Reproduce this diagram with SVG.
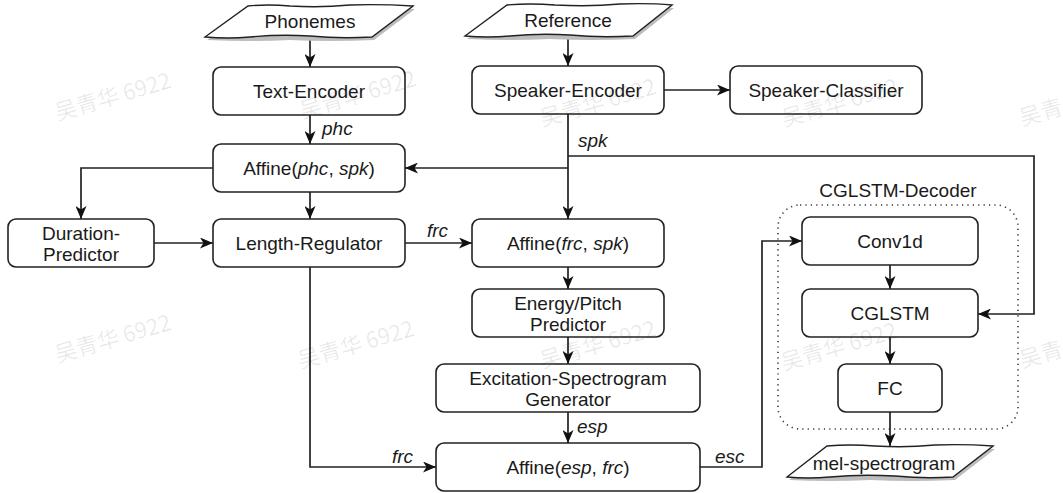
<svg xmlns="http://www.w3.org/2000/svg" width="1063" height="493" viewBox="0 0 1063 493">
<style>
.box{fill:#fff;stroke:#222;stroke-width:1.6}
.io{fill:#fff;stroke:#222;stroke-width:1.4}
.sh{fill:#bdbdbd;stroke:none}
.t{font-family:"Liberation Sans",Arial,sans-serif;font-size:19px;fill:#1a1a1a;text-anchor:middle}
.i{font-style:italic}
.lbl{font-family:"Liberation Sans",Arial,sans-serif;font-size:19px;fill:#1a1a1a;font-style:italic}
.c{fill:none;stroke:#222;stroke-width:1.7}
.wm{font-family:"Noto Sans CJK SC","Liberation Sans",sans-serif;font-size:22px;fill:#000;fill-opacity:0.09;text-anchor:middle}
</style>
<defs>
<marker id="ah" viewBox="0 0 13 11" refX="13" refY="5.5" markerWidth="13" markerHeight="11" markerUnits="userSpaceOnUse" orient="auto">
<path d="M0,0 L13,5.5 L0,11 L3.5,5.5 Z" fill="#111"/>
</marker>
</defs>

<g id="decoder-group">
<rect x="778" y="205" width="240" height="224" rx="22" fill="none" stroke="#333" stroke-width="1.6" stroke-dasharray="1.2 4.2"/>
<text class="t" x="898" y="197">CGLSTM-Decoder</text>
</g>

<g id="connectors">
<path class="c" d="M310,37 V67" marker-end="url(#ah)"/>
<path class="c" d="M568,36 V66" marker-end="url(#ah)"/>
<path class="c" d="M664,90 H730" marker-end="url(#ah)"/>
<path class="c" d="M310,115 V144" marker-end="url(#ah)"/>
<path class="c" d="M568,114 V219" marker-end="url(#ah)"/>
<path class="c" d="M568,168 H405" marker-end="url(#ah)"/>
<path class="c" d="M568,156 H1034 V314 H978" marker-end="url(#ah)"/>
<path class="c" d="M213,168 H81 V219" marker-end="url(#ah)"/>
<path class="c" d="M310,192 V219" marker-end="url(#ah)"/>
<path class="c" d="M154,243 H213" marker-end="url(#ah)"/>
<path class="c" d="M405,243 H472" marker-end="url(#ah)"/>
<path class="c" d="M568,267 V289" marker-end="url(#ah)"/>
<path class="c" d="M568,337 V364" marker-end="url(#ah)"/>
<path class="c" d="M568,412 V443" marker-end="url(#ah)"/>
<path class="c" d="M310,267 V467 H436" marker-end="url(#ah)"/>
<path class="c" d="M700,467 H762 V241 H802" marker-end="url(#ah)"/>
<path class="c" d="M890,265 V289" marker-end="url(#ah)"/>
<path class="c" d="M890,337 V364" marker-end="url(#ah)"/>
<path class="c" d="M890,412 V446" marker-end="url(#ah)"/>
<text class="lbl" x="322" y="135">phc</text>
<text class="lbl" x="578" y="147">spk</text>
<text class="lbl" x="427" y="237">frc</text>
<text class="lbl" x="577" y="433">esp</text>
<text class="lbl" x="392" y="463">frc</text>
<text class="lbl" x="715" y="463">esc</text>
</g>

<g id="phonemes">
<path class="sh" d="M207,40 L250,9 Q290,7 330,9 Q370,7 415,9 L374,40 Q330,42 290,40 Q250,42 207,40 Z"/>
<path class="io" d="M205,37 L248,6 Q268,4 290,6 Q320,8 350,5 Q380,4 413,6 L372,37 Q340,39 310,36 Q280,34 250,37 Q228,39 205,37 Z"/>
<text class="t" x="310" y="28">Phonemes</text>
</g>

<g id="reference">
<path class="sh" d="M467,39 L509,8 Q560,6 600,8 Q640,6 674,8 L635,39 Q590,41 550,39 Q510,41 467,39 Z"/>
<path class="io" d="M465,36 L507,5 Q530,3 555,5 Q590,7 620,4 Q650,3 672,5 L633,36 Q600,38 570,35 Q540,33 510,36 Q488,38 465,36 Z"/>
<text class="t" x="568" y="27">Reference</text>
</g>

<g id="text-encoder">
<rect class="box" x="213" y="67" width="192" height="48" rx="8"/>
<text class="t" x="309" y="98">Text-Encoder</text>
</g>

<g id="speaker-encoder">
<rect class="box" x="472" y="66" width="192" height="48" rx="8"/>
<text class="t" x="568" y="97">Speaker-Encoder</text>
</g>

<g id="speaker-classifier">
<rect class="box" x="730" y="66" width="192" height="48" rx="8"/>
<text class="t" x="826" y="97">Speaker-Classifier</text>
</g>

<g id="affine-phc-spk">
<rect class="box" x="213" y="144" width="192" height="48" rx="8"/>
<text class="t" x="309" y="175">Affine(<tspan class="i">phc</tspan>, <tspan class="i">spk</tspan>)</text>
</g>

<g id="duration-predictor">
<rect class="box" x="8" y="219" width="146" height="48" rx="8"/>
<text class="t" x="81" y="240">Duration-</text>
<text class="t" x="81" y="261">Predictor</text>
</g>

<g id="length-regulator">
<rect class="box" x="213" y="219" width="192" height="48" rx="8"/>
<text class="t" x="309" y="250">Length-Regulator</text>
</g>

<g id="affine-frc-spk">
<rect class="box" x="472" y="219" width="192" height="48" rx="8"/>
<text class="t" x="568" y="250">Affine(<tspan class="i">frc</tspan>, <tspan class="i">spk</tspan>)</text>
</g>

<g id="energy-pitch">
<rect class="box" x="472" y="289" width="192" height="48" rx="8"/>
<text class="t" x="568" y="310">Energy/Pitch</text>
<text class="t" x="568" y="331">Predictor</text>
</g>

<g id="excitation-generator">
<rect class="box" x="436" y="364" width="264" height="48" rx="8"/>
<text class="t" x="568" y="385">Excitation-Spectrogram</text>
<text class="t" x="568" y="406">Generator</text>
</g>

<g id="affine-esp-frc">
<rect class="box" x="436" y="443" width="264" height="48" rx="8"/>
<text class="t" x="568" y="474">Affine(<tspan class="i">esp</tspan>, <tspan class="i">frc</tspan>)</text>
</g>

<g id="conv1d">
<rect class="box" x="802" y="217" width="176" height="48" rx="8"/>
<text class="t" x="890" y="248">Conv1d</text>
</g>

<g id="cglstm">
<rect class="box" x="802" y="289" width="176" height="48" rx="8"/>
<text class="t" x="890" y="320">CGLSTM</text>
</g>

<g id="fc">
<rect class="box" x="838" y="364" width="104" height="48" rx="8"/>
<text class="t" x="890" y="395">FC</text>
</g>

<g id="mel-spectrogram">
<path class="sh" d="M789,480 L829,449 Q870,447 910,449 Q950,447 995,449 L955,480 Q910,482 870,480 Q830,482 789,480 Z"/>
<path class="io" d="M787,477 L827,446 Q850,444 875,446 Q905,448 935,445 Q965,444 993,446 L953,477 Q925,479 895,476 Q860,474 830,477 Q808,479 787,477 Z"/>
<text class="t" x="884" y="470">mel-spectrogram</text>
</g>

<g id="watermarks">
<text class="wm" transform="translate(115,104) rotate(-16)">吴青华 6922</text>
<text class="wm" transform="translate(360,102) rotate(-16)">吴青华 6922</text>
<text class="wm" transform="translate(600,110) rotate(-16)">吴青华 6922</text>
<text class="wm" transform="translate(842,110) rotate(-16)">吴青华 6922</text>
<text class="wm" x="1022" y="126" style="text-anchor:start" transform="rotate(-16 1022 126)">吴青</text>
<text class="wm" transform="translate(115,346) rotate(-16)">吴青华 6922</text>
<text class="wm" transform="translate(358,352) rotate(-16)">吴青华 6922</text>
<text class="wm" transform="translate(600,352) rotate(-16)">吴青华 6922</text>
<text class="wm" transform="translate(841,354) rotate(-16)">吴青华 6922</text>
<text class="wm" x="1022" y="368" style="text-anchor:start" transform="rotate(-16 1022 368)">吴青</text>
</g>
</svg>
